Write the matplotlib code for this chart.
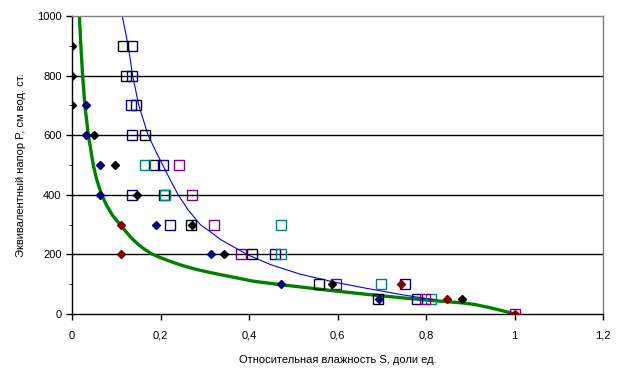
import matplotlib
matplotlib.use("Agg")
import matplotlib.pyplot as plt
from matplotlib.ticker import MultipleLocator

plt.rcParams['font.family'] = ['Liberation Sans', 'DejaVu Sans']

# open squares
sq_black_s = [0.115, 0.122, 0.144, 0.165, 0.186, 0.209, 0.269, 0.406, 0.558, 0.691]
sq_black_p = [900, 800, 700, 600, 500, 400, 300, 200, 100, 50]
sq_navy_s = [0.136, 0.136, 0.134, 0.135, 0.206, 0.135, 0.221, 0.459, 0.753, 0.779]
sq_navy_p = [900, 800, 700, 600, 500, 400, 300, 200, 100, 50]
sq_teal_s = [0.165, 0.211, 0.472, 0.472, 0.698, 0.811]
sq_teal_p = [500, 400, 300, 200, 100, 50]
sq_purple_s = [0.241, 0.271, 0.320, 0.383, 0.597, 0.797, 1.0]
sq_purple_p = [500, 400, 300, 200, 100, 50, 0]

# filled diamonds
dm_black_s = [0.0, 0.0, 0.0, 0.05, 0.097, 0.147, 0.271, 0.343, 0.588, 0.881]
dm_black_p = [900, 800, 700, 600, 500, 400, 300, 200, 100, 50]
dm_navy_s = [0.032, 0.032, 0.063, 0.063, 0.19, 0.314, 0.472, 0.693]
dm_navy_p = [700, 600, 500, 400, 300, 200, 100, 50]
dm_red_s = [0.11, 0.11, 0.743, 0.847, 1.0]
dm_red_p = [300, 200, 100, 50, 0]

# green curve
green_s = [0.016, 0.020, 0.024, 0.029, 0.037, 0.048, 0.056, 0.067, 0.078, 0.092,
           0.110, 0.122, 0.135, 0.150, 0.165, 0.180, 0.200, 0.225, 0.251, 0.280,
           0.319, 0.41, 0.474, 0.515, 0.59, 0.666, 0.741, 0.817, 0.884, 0.91,
           0.945, 0.97, 0.99, 1.0]
green_p = [1020, 900, 800, 700, 600, 500, 450, 400, 365, 330,
           298, 276, 254, 233, 216, 202, 189, 175, 162, 150,
           137, 110, 98, 91, 78, 66, 55, 45, 37, 32,
           21, 12, 4, 0]

# blue curve
blue_s = [0.111, 0.127, 0.137, 0.151, 0.172, 0.188, 0.205, 0.222, 0.240, 0.262,
          0.290, 0.338, 0.398, 0.45, 0.515, 0.59, 0.666, 0.741, 0.80, 0.825]
blue_p = [1020, 900, 800, 700, 600, 550, 500, 450, 400, 350,
          300, 248, 198, 165, 134, 108, 86, 66, 52, 48]

xticks = [0, 0.2, 0.4, 0.6, 0.8, 1.0, 1.2]
xtick_labels = ["0", "0,2", "0,4", "0,6", "0,8", "1", "1,2"]
yticks = [0, 200, 400, 600, 800, 1000]

fig = plt.figure(figsize=(6.23, 3.82), dpi=100)
ax = fig.add_axes([0.1156, 0.178, 0.8523, 0.780])

for y in [200, 400, 600, 800]:
    ax.axhline(y, color="black", lw=1.0, zorder=1)

ax.plot(green_s, green_p, color="#008000", lw=2.4, zorder=2,
        solid_joinstyle="round")
ax.plot(blue_s, blue_p, color="#0000FF", lw=0.8, zorder=2)

sq = dict(marker="s", ms=6.5, mfc="none", mew=1.0, ls="none", zorder=3)
ax.plot(sq_black_s, sq_black_p, mec="black", **sq)
ax.plot(sq_navy_s, sq_navy_p, mec="#000080", **sq)
ax.plot(sq_teal_s, sq_teal_p, mec="#008080", **sq)
ax.plot(sq_purple_s, sq_purple_p, mec="#800080", **sq)

dm = dict(marker="D", ms=4, ls="none", zorder=4)
ax.plot(dm_black_s, dm_black_p, color="black", **dm)
ax.plot(dm_navy_s, dm_navy_p, color="#000080", **dm)
ax.plot(dm_red_s, dm_red_p, color="#800000", **dm)

ax.set_xlim(0, 1.2)
ax.set_ylim(0, 1000)
ax.set_xticks(xticks)
ax.set_xticklabels(xtick_labels)
ax.set_yticks(yticks)
ax.yaxis.set_minor_locator(MultipleLocator(100))
ax.tick_params(axis="both", labelsize=8, direction="out", length=4, width=1, color="black")
ax.tick_params(axis="y", which="minor", length=2)
ax.tick_params(axis="x", pad=8)

ax.spines["left"].set_color("black")
ax.spines["bottom"].set_color("black")
ax.spines["top"].set_color("#808080")
ax.spines["right"].set_color("#808080")
for s in ax.spines.values():
    s.set_linewidth(1.0)

ax.set_xlabel("Относительная влажность S, доли ед.", fontsize=8, labelpad=10)
ax.set_ylabel("Эквивалентный напор P, см вод. ст.", fontsize=8, labelpad=8)

fig.savefig("out.png", dpi=100)
